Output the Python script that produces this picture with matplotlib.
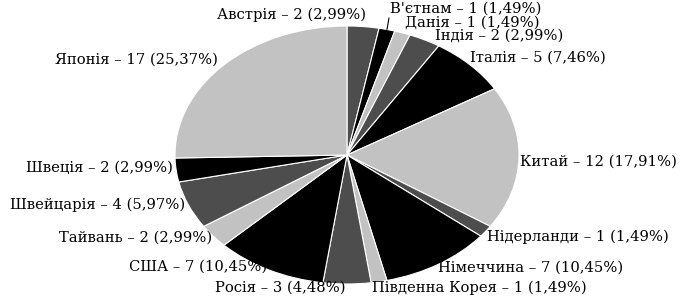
import matplotlib.pyplot as plt
import numpy as np

# Data
countries = ['Австрія', "В'єтнам", 'Данія', 'Індія', 'Італія', 'Китай', 'Нідерланди',
             'Німеччина', 'Південна Корея', 'Росія', 'США', 'Тайвань', 'Швейцарія',
             'Швеція', 'Японія']
counts = [2, 1, 1, 2, 5, 12, 1, 7, 1, 3, 7, 2, 4, 2, 17]
percents = ['2,99', '1,49', '1,49', '2,99', '7,46', '17,91', '1,49', '10,45', '1,49',
            '4,48', '10,45', '2,99', '5,97', '2,99', '25,37']

# Label placement in pixels (x, y from top, alignment)
label_pos = [(217, 15, 'left'), (390, 9, 'left'), (405, 23, 'left'), (435, 36, 'left'),
             (470, 58, 'left'), (520, 162, 'left'), (487, 237, 'left'), (438, 268, 'left'),
             (372, 288, 'left'), (345, 288, 'right'), (267, 267, 'right'),
             (212, 238, 'right'), (185, 205, 'right'), (173, 168, 'right'),
             (218, 60, 'right')]

W, H = 683, 299
cx, cy = 347, 155      # pie centre, px
rx, ry = 172, 129      # pie radii, px

shades = ['#4d4d4d', '#000000', '#c2c2c2']
colors = [shades[i % 3] for i in range(len(counts))]

fig = plt.figure(figsize=(W / 100, H / 100), dpi=100)
ax = fig.add_axes([0, 0, 1, 1])

ax.pie(counts, colors=colors, startangle=90, counterclock=False, radius=1,
       wedgeprops=dict(edgecolor='white', linewidth=0.8))
ax.set_aspect('auto')
ax.set_xlim(-cx / rx, (W - cx) / rx)
ax.set_ylim(-(H - cy) / ry, cy / ry)
ax.axis('off')

for name, n, pct, (px, py, ha) in zip(countries, counts, percents, label_pos):
    fig.text(px / W, 1 - py / H, f'{name} – {n} ({pct}%)', ha=ha, va='center',
             fontsize=10.6, family='DejaVu Serif', color='black')

# leader line for the small Vietnam slice
frac = (counts[0] + counts[1] / 2) / sum(counts)
ang = 2 * np.pi * frac
ax.annotate('', xy=(np.sin(ang), np.cos(ang)), xytext=((389 - cx) / rx, (cy - 18) / ry),
            arrowprops=dict(arrowstyle='-', color='black', lw=0.8, shrinkA=0, shrinkB=0))

fig.savefig('out.png', dpi=100)
